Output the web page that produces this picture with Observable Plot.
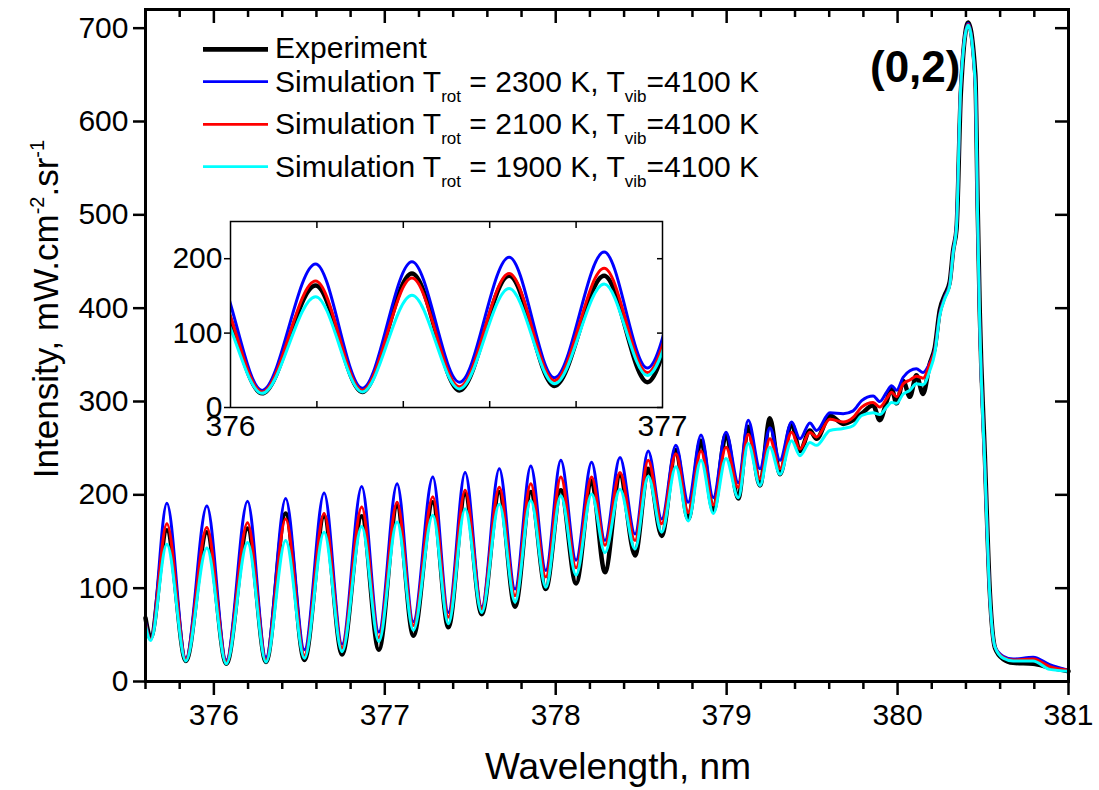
<!DOCTYPE html>
<html>
<head>
<meta charset="utf-8">
<script src="https://cdn.jsdelivr.net/npm/d3@7"></script>
<script src="https://cdn.jsdelivr.net/npm/@observablehq/plot@0.6"></script>
<style>
  body { margin: 0; background: #fff; font-family: "Liberation Sans", Arial, sans-serif; }
  #wrap { position: relative; width: 1099px; height: 790px; }
  #inset { position: absolute; left: 160px; top: 215px; }
</style>
</head>
<body>
<div id="wrap"><div id="main"></div><div id="inset"></div></div>
<script>
// ---- data ----
const wavelength = [375.6, 375.63, 375.725, 375.836, 375.959, 376.073, 376.197, 376.305, 376.42, 376.53,
  376.645, 376.75, 376.865, 376.965, 377.072, 377.167, 377.281, 377.372, 377.47, 377.567,
  377.67, 377.762, 377.854, 377.942, 378.03, 378.119, 378.21, 378.288, 378.376, 378.464,
  378.541, 378.62, 378.703, 378.775, 378.85, 378.922, 378.996, 379.068, 379.126, 379.195,
  379.253, 379.312, 379.38, 379.429, 379.487, 379.526, 379.604, 379.682, 379.74, 379.79,
  379.857, 379.896, 379.936, 379.965, 379.994, 380.033, 380.072, 380.11, 380.149, 380.188,
  380.218, 380.247, 380.276, 380.305, 380.325, 380.345, 380.37, 380.413, 380.455, 380.468,
  380.481, 380.51, 380.54, 380.57, 380.618, 380.676, 380.793, 380.89, 381.0];

const experiment = [68, 47, 162, 22, 160, 19, 164, 21, 180, 23,
  177, 29, 177, 34, 188, 49, 192, 58, 201, 72,
  203, 80, 203, 99, 205, 105, 215, 117, 221, 135,
  228, 156, 248, 174, 258, 183, 264, 196, 273, 210,
  282, 222, 276, 247, 269, 260, 285, 276, 280, 287,
  296, 280, 300, 314, 298, 322, 305, 328, 308, 340,
  358, 398, 414, 428, 462, 485, 630, 706, 650, 515,
  395, 245, 95, 36, 24, 20, 19, 15, 11];

const sim2300 = [64, 45, 191, 25, 188, 23, 193, 26, 196, 34,
  202, 40, 209, 53, 212, 64, 219, 74, 224, 80,
  228, 99, 231, 119, 237, 130, 235, 151, 240, 158,
  247, 174, 253, 192, 264, 197, 267, 213, 280, 228,
  272, 237, 278, 260, 277, 269, 288, 287, 290, 301,
  306, 300, 310, 317, 312, 326, 333, 335, 331, 341,
  356, 394, 412, 426, 461, 490, 640, 705, 640, 500,
  380, 234, 90, 37, 27, 24, 26, 18, 12];

const sim2100 = [62, 45, 169, 24, 165, 21, 170, 23, 174, 28,
  180, 36, 187, 47, 192, 60, 198, 69, 205, 78,
  208, 92, 212, 112, 219, 122, 219, 146, 224, 151,
  237, 169, 244, 181, 247, 189, 251, 208, 265, 217,
  260, 228, 267, 249, 267, 262, 281, 278, 283, 294,
  299, 294, 303, 310, 305, 319, 323, 327, 325, 340,
  355, 393, 411, 425, 460, 489, 640, 704, 640, 500,
  380, 234, 90, 37, 26, 23, 24, 16, 12];

const sim1900 = [60, 44, 147, 22, 143, 19, 149, 21, 151, 25,
  160, 32, 166, 43, 171, 55, 178, 62, 185, 74,
  190, 85, 194, 101, 199, 114, 201, 138, 206, 142,
  220, 160, 230, 172, 237, 180, 239, 197, 255, 210,
  251, 222, 258, 242, 256, 253, 269, 271, 274, 285,
  288, 286, 294, 299, 298, 308, 312, 319, 318, 333,
  352, 392, 410, 424, 459, 488, 640, 703, 640, 500,
  380, 234, 90, 37, 25, 22, 22, 13, 11];

const seriesNames = ["Experiment", "Simulation 2300 K", "Simulation 2100 K", "Simulation 1900 K"];
const seriesValues = [experiment, sim2300, sim2100, sim1900];
const seriesColors = ["#000000", "#0000ff", "#ff0000", "#00ffff"];
const seriesWidths = [4.5, 3, 3, 3];

const legendRotTemps = [null, "2300", "2100", "1900"];
const legendVibTemp = "4100";

const xMajorTicks = [376, 377, 378, 379, 380, 381];
const xMinorTicks = [375.6, 375.8, 376.2, 376.4, 376.6, 376.8, 377.2, 377.4, 377.6, 377.8,
  378.2, 378.4, 378.6, 378.8, 379.2, 379.4, 379.6, 379.8, 380.2, 380.4, 380.6, 380.8];
const yTicks = [0, 100, 200, 300, 400, 500, 600, 700];

const insetXTicks = [376.2, 376.4, 376.6, 376.8];
const insetXLabels = [376, 377];
const insetYTicks = [0, 100, 200];

// ---- build rows ----
const rowsFor = k => wavelength.map((w, i) => ({x: w, y: seriesValues[k][i], name: seriesNames[k]}));
const lineMarks = (extra = {}) => seriesNames.map((n, k) =>
  Plot.line(rowsFor(k), {x: "x", y: "y", stroke: seriesColors[k], strokeWidth: seriesWidths[k],
    curve: "monotone-x", strokeLinejoin: "round", ...extra}));

const FONT = "Liberation Sans, Arial, sans-serif";
const blank = () => "";
const intFmt = d => String(Math.round(d));

// ---- main chart ----
const main = Plot.plot({
  width: 1099, height: 790,
  marginLeft: 145, marginRight: 31, marginTop: 9, marginBottom: 109,
  x: {domain: [375.6, 381]},
  y: {domain: [0, 720]},
  style: {fontFamily: FONT, background: "transparent", color: "#000", overflow: "visible"},
  marks: [
    ...lineMarks(),
    Plot.frame({strokeWidth: 3}),
    Plot.axisX(xMajorTicks, {anchor: "bottom", tickSize: 14, tickPadding: 8, fontSize: 30, strokeWidth: 2.5, label: null, tickFormat: intFmt}),
    Plot.axisX(xMinorTicks, {anchor: "bottom", tickSize: 8, strokeWidth: 2.5, label: null, tickFormat: blank}),
    Plot.axisX(xMajorTicks, {anchor: "top", tickSize: 13, dy: 13, strokeWidth: 2.5, label: null, tickFormat: blank}),
    Plot.axisX(xMinorTicks, {anchor: "top", tickSize: 7, dy: 7, strokeWidth: 2.5, label: null, tickFormat: blank}),
    Plot.axisY(yTicks, {anchor: "left", tickSize: 12, tickPadding: 5, fontSize: 30, strokeWidth: 2.5, label: null, tickFormat: intFmt}),
    Plot.axisY(yTicks, {anchor: "right", tickSize: 14, dx: -14, strokeWidth: 2.5, label: null, tickFormat: blank})
  ]
});
document.getElementById("main").appendChild(main);

const svg = d3.select(main);

// axis titles
svg.append("text")
  .attr("x", 618).attr("y", 779)
  .attr("text-anchor", "middle").attr("font-size", 37).attr("fill", "#000")
  .text("Wavelength, nm");

const yl = svg.append("text")
  .attr("transform", "translate(58,309) rotate(-90)")
  .attr("text-anchor", "middle").attr("font-size", 35).attr("fill", "#000");
yl.append("tspan").text("Intensity, mW.cm");
yl.append("tspan").attr("font-size", 20).attr("dy", -14).text("-2");
yl.append("tspan").attr("dy", 14).text(".sr");
yl.append("tspan").attr("font-size", 20).attr("dy", -14).text("-1");

// band label
svg.append("text")
  .attr("x", 870).attr("y", 82).attr("text-anchor", "start")
  .attr("font-size", 44).attr("font-weight", "bold").attr("fill", "#000")
  .text("(0,2)");

// legend
const legendBaselines = [57.5, 91.7, 134.3, 176.9];
const legendLineY = [49.3, 81.7, 124.3, 166.7];
seriesNames.forEach((n, k) => {
  svg.append("line")
    .attr("x1", 203).attr("x2", 268)
    .attr("y1", legendLineY[k]).attr("y2", legendLineY[k])
    .attr("stroke", seriesColors[k]).attr("stroke-width", k === 0 ? 4.7 : 2.7);
  const t = svg.append("text")
    .attr("x", 275).attr("y", legendBaselines[k]).attr("text-anchor", "start")
    .attr("font-size", 30).attr("fill", "#000");
  if (k === 0) {
    t.text("Experiment");
  } else {
    t.append("tspan").text("Simulation T");
    t.append("tspan").attr("font-size", 17).attr("dy", 10).text("rot");
    t.append("tspan").attr("dy", -10).text(` = ${legendRotTemps[k]} K, T`);
    t.append("tspan").attr("font-size", 17).attr("dy", 10).text("vib");
    t.append("tspan").attr("dy", -10).text(`=${legendVibTemp} K`);
  }
});

// ---- inset ----
const inset = Plot.plot({
  width: 520, height: 230,
  marginLeft: 70, marginRight: 18, marginTop: 6, marginBottom: 38,
  x: {domain: [376, 377]},
  y: {domain: [0, 250]},
  style: {fontFamily: FONT, background: "transparent", color: "#000", overflow: "visible"},
  marks: [
    ...lineMarks({clip: true}),
    Plot.frame({strokeWidth: 1.5}),
    Plot.axisX(insetXTicks, {anchor: "bottom", tickSize: 6, dy: -6, strokeWidth: 1.5, label: null, tickFormat: blank}),
    Plot.axisX(insetXTicks, {anchor: "top", tickSize: 6, dy: 6, strokeWidth: 1.5, label: null, tickFormat: blank}),
    Plot.axisX(insetXLabels, {anchor: "bottom", tickSize: 0, tickPadding: 7, fontSize: 30, label: null, tickFormat: intFmt}),
    Plot.axisY(insetYTicks, {anchor: "left", tickSize: 6, tickPadding: 2, fontSize: 30, strokeWidth: 1.5, label: null, tickFormat: intFmt}),
    Plot.axisY(insetYTicks, {anchor: "right", tickSize: 6, dx: -6, strokeWidth: 1.5, label: null, tickFormat: blank})
  ]
});
document.getElementById("inset").appendChild(inset);
</script>
</body>
</html>
